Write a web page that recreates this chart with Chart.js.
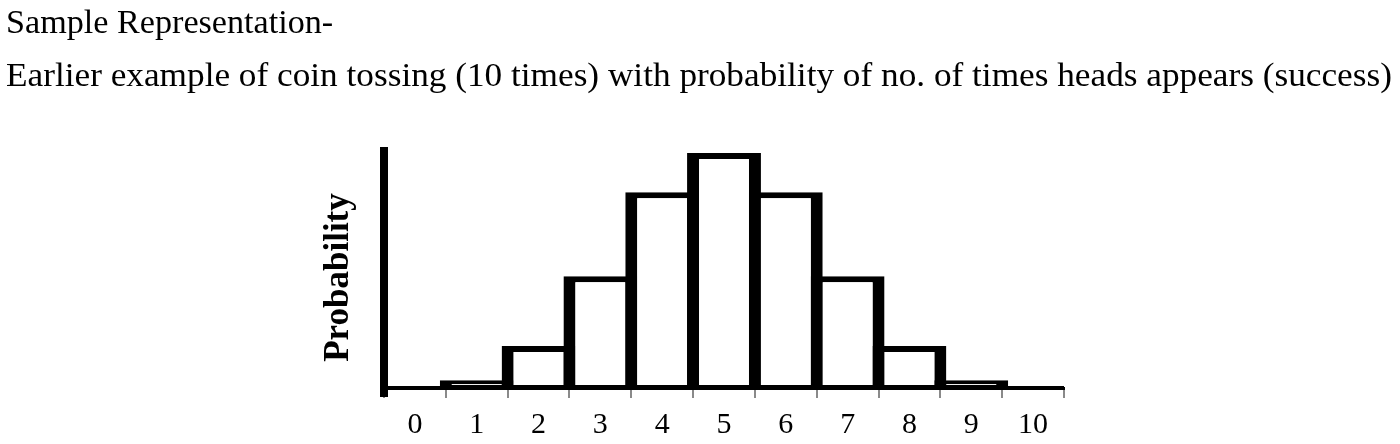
<!DOCTYPE html>
<html>
<head>
<meta charset="utf-8">
<script src="https://cdn.jsdelivr.net/npm/chart.js@4/dist/chart.umd.min.js"></script>
<style>
  html, body { margin: 0; padding: 0; background: #fff; }
  body { width: 1400px; height: 444px; position: relative; overflow: hidden; }
  .hd { position: absolute; left: 6px; font-family: "Liberation Serif", "Times New Roman", serif; font-size: 33px; line-height: 33px; color: #000; white-space: nowrap; transform-origin: 0 0; }
  #h1 { top: 6px; transform: scaleX(1.035); }
  #h2 { top: 59px; transform: scaleX(1.068); }
  #c { position: absolute; left: 0; top: 0; }
</style>
</head>
<body>
<canvas id="c" width="1400" height="444"></canvas>
<div class="hd" id="h1">Sample Representation-</div>
<div class="hd" id="h2">Earlier example of coin tossing (10 times) with probability of no. of times heads appears (success)</div>
<script>
// Number of heads in 10 tosses
const categories = ["0", "1", "2", "3", "4", "5", "6", "7", "8", "9", "10"];
// Probability
const probabilities = [0.002, 0.008, 0.044, 0.117, 0.205, 0.246, 0.205, 0.117, 0.044, 0.008, 0.002];
const yAxisTitle = "Probability";

const serif = "'Liberation Serif', 'Times New Roman', serif";

// Draws the rotated y-axis title and the short extension of the y-axis line below the x-axis
const axisExtras = {
  id: 'axisExtras',
  afterDraw(chart) {
    const ctx = chart.ctx;
    const a = chart.chartArea;
    ctx.save();
    ctx.fillStyle = '#000000';
    ctx.fillRect(a.left - 4, a.bottom, 8, 9);
    ctx.translate(a.left - 45, (a.top + a.bottom) / 2 + 8);
    ctx.rotate(-Math.PI / 2);
    ctx.font = "bold 35px " + serif;
    ctx.textAlign = 'center';
    ctx.textBaseline = 'middle';
    ctx.fillText(yAxisTitle, 0, 0);
    ctx.restore();
  }
};

new Chart(document.getElementById('c'), {
  type: 'bar',
  data: {
    labels: categories,
    datasets: [{
      data: probabilities,
      backgroundColor: '#ffffff',
      borderColor: '#000000',
      borderWidth: { top: 6, left: 12, right: 12, bottom: 3 },
      borderSkipped: false,
      borderRadius: 0,
      inflateAmount: 0,
      categoryPercentage: 1.0,
      barPercentage: 1.194
    }]
  },
  plugins: [axisExtras],
  options: {
    responsive: false,
    devicePixelRatio: 1,
    animation: false,
    events: [],
    layout: { padding: { left: 300, right: 336, top: 151, bottom: 0 } },
    plugins: { legend: { display: false }, tooltip: { enabled: false }, title: { display: false } },
    scales: {
      x: {
        type: 'category',
        offset: true,
        afterFit: (s) => { s.height = 56; },
        grid: { offset: true, drawOnChartArea: false, drawTicks: true, tickLength: 10, color: '#8a8a8a', lineWidth: 2 },
        border: { display: true, color: '#000000', width: 3 },
        ticks: { color: '#000000', padding: 9, font: { family: serif, size: 30 }, maxRotation: 0, autoSkip: false }
      },
      y: {
        min: 0,
        max: 0.2481,
        afterFit: (s) => { s.width = 84; },
        grid: { display: false, drawOnChartArea: false, drawTicks: false },
        border: { display: true, color: '#000000', width: 8 },
        ticks: { display: false },
        title: { display: false, text: yAxisTitle }
      }
    }
  }
});
</script>
</body>
</html>
